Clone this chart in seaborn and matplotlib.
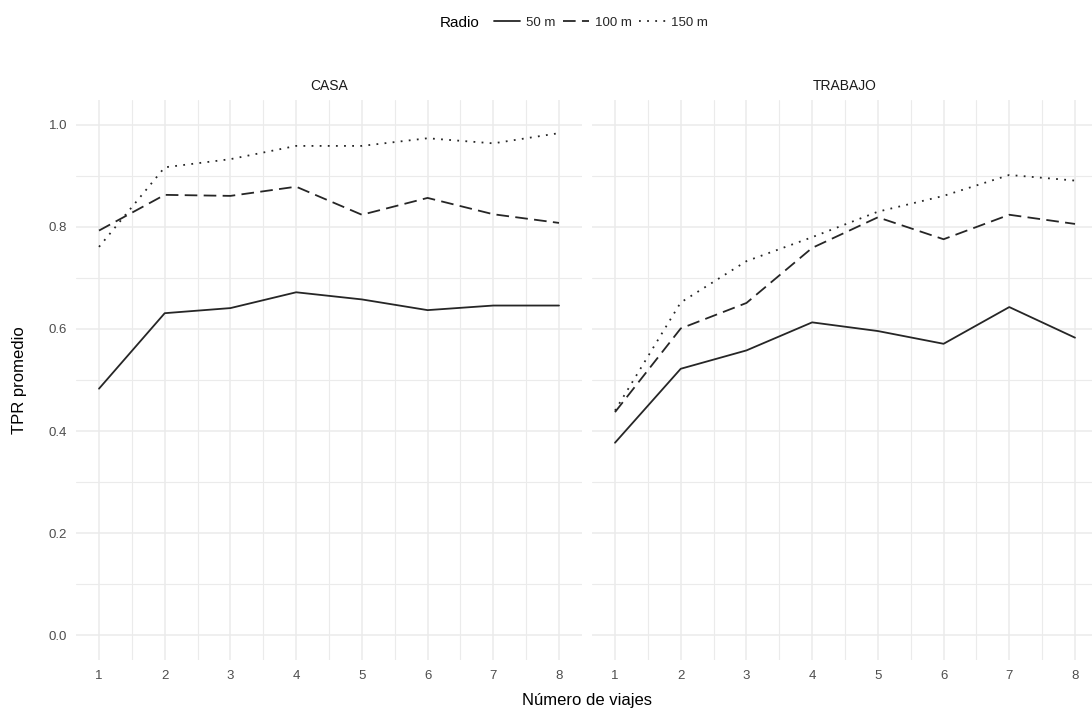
import numpy as np
import pandas as pd
import matplotlib
matplotlib.use("Agg")
import matplotlib.pyplot as plt
import seaborn as sns
from matplotlib.lines import Line2D
from matplotlib.ticker import MultipleLocator

viajes = [1, 2, 3, 4, 5, 6, 7, 8]
radios = ["50 m", "100 m", "150 m"]
paneles = ["CASA", "TRABAJO"]

casa_50 = [0.483, 0.631, 0.641, 0.672, 0.658, 0.637, 0.646, 0.646]
casa_100 = [0.793, 0.863, 0.861, 0.879, 0.824, 0.857, 0.825, 0.808]
casa_150 = [0.761, 0.917, 0.933, 0.959, 0.959, 0.974, 0.964, 0.984]

trabajo_50 = [0.377, 0.522, 0.558, 0.613, 0.596, 0.571, 0.643, 0.583]
trabajo_100 = [0.437, 0.601, 0.651, 0.759, 0.819, 0.776, 0.824, 0.806]
trabajo_150 = [0.440, 0.652, 0.733, 0.780, 0.830, 0.861, 0.902, 0.891]

series = {
    ("CASA", "50 m"): casa_50, ("CASA", "100 m"): casa_100, ("CASA", "150 m"): casa_150,
    ("TRABAJO", "50 m"): trabajo_50, ("TRABAJO", "100 m"): trabajo_100, ("TRABAJO", "150 m"): trabajo_150,
}
rows = []
for (lugar, radio), vals in series.items():
    for v, t in zip(viajes, vals):
        rows.append({"lugar": lugar, "Radio": radio, "viajes": v, "tpr": t})
df = pd.DataFrame(rows)

sns.set_theme(style="white")
plt.rcParams["font.family"] = ["Liberation Sans", "DejaVu Sans"]

W, H = 1092, 711
fig = plt.figure(figsize=(W / 100, H / 100), dpi=100)
fig.patch.set_facecolor("white")

def px_axes(x0, y0, x1, y1):
    return fig.add_axes([x0 / W, 1 - y1 / H, (x1 - x0) / W, (y1 - y0) / H])

ax_l = px_axes(76, 100, 582, 660)
ax_r = px_axes(592, 100, 1098, 660)

line_color = "#262626"
dash_map = {"50 m": "", "100 m": (7, 3.5), "150 m": (1, 3.5)}
grid_c = "#EBEBEB"

for ax, lugar in zip([ax_l, ax_r], paneles):
    sub = df[df["lugar"] == lugar]
    sns.lineplot(data=sub, x="viajes", y="tpr", style="Radio", style_order=radios,
                 dashes=dash_map, color=line_color, linewidth=1.3, ax=ax, legend=False)
    ax.set_xlim(0.65, 8.35)
    ax.set_ylim(-0.049, 1.049)
    ax.xaxis.set_major_locator(MultipleLocator(1))
    ax.xaxis.set_minor_locator(MultipleLocator(0.5))
    ax.yaxis.set_major_locator(MultipleLocator(0.2))
    ax.yaxis.set_minor_locator(MultipleLocator(0.1))
    ax.grid(True, which="major", color=grid_c, linewidth=1.1)
    ax.grid(True, which="minor", color=grid_c, linewidth=0.8)
    ax.set_axisbelow(True)
    for s in ax.spines.values():
        s.set_visible(False)
    ax.tick_params(axis="both", which="both", length=0, colors="#4D4D4D", labelsize=9.5)
    ax.tick_params(axis="x", pad=7)
    ax.tick_params(axis="y", pad=6.5)
    ax.set_xlabel("")
    ax.set_ylabel("")
    ax.set_title(lugar, fontsize=10, color="#1A1A1A", pad=7)

ax_l.yaxis.set_major_formatter(matplotlib.ticker.FormatStrFormatter("%.1f"))
ax_r.set_yticklabels([])

fig.text(587 / W, 1 - 700 / H, "Número de viajes", ha="center", va="center", fontsize=12, color="black")
fig.text(20 / W, 1 - 380 / H, "TPR promedio", ha="center", va="center", rotation=90, fontsize=12, color="black")

# Legend
fig.text(440 / W, 1 - 23 / H, "Radio", ha="left", va="center", fontsize=11, color="black")
handles = [Line2D([0], [0], color=line_color, linewidth=1.3,
                  linestyle=("-" if dash_map[r] == "" else (0, dash_map[r]))) for r in radios]
fig.legend(handles, radios, loc="center left", bbox_to_anchor=(494 / W, 1 - 23 / H),
           ncol=3, frameon=False, fontsize=9.5, handlelength=2.0, handletextpad=0.4,
           columnspacing=0.6, borderpad=0, borderaxespad=0)

fig.savefig("out.png", dpi=100, facecolor="white")
